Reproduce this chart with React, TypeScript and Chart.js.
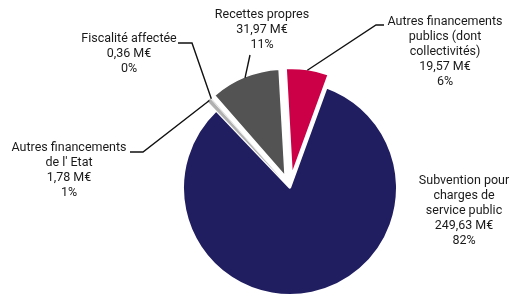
import React, { useEffect, useRef } from "react";
import { Chart, registerables } from "chart.js";

Chart.register(...registerables);

// ---- Data ----
const categories = [
  "Subvention pour charges de service public",
  "Autres financements de l' Etat",
  "Fiscalité affectée",
  "Recettes propres",
  "Autres financements publics (dont collectivités)",
];
const valuesME = [249.63, 1.78, 0.36, 31.97, 19.57];
const labelLines = [
  ["Subvention pour", "charges de", "service public"],
  ["Autres financements", "de l' Etat"],
  ["Fiscalité affectée"],
  ["Recettes propres"],
  ["Autres financements", "publics (dont", "collectivités)"],
];
const colors = ["#201e60", "#b1b1b1", "#d6d6d6", "#535353", "#cc0047"];

// ---- Layout / style (not data) ----
const W = 512;
const H = 297;
const PIE_R = 107;
const EXPLODE_PX = [0, 13, 13, 13, 13];
const FONT = '12.5px Roboto, "Noto Sans", sans-serif';
const LINE_H = 15;
const BORDERS = [2, 0, 0, 1.5, 2];
// text block anchor (center x, first-line y) relative to pie centre
const TEXT_POS: [number, number][] = [
  [174, -7],
  [-221, -40],
  [-161, -149],
  [-28, -173],
  [155, -166],
];
// leader line bend points relative to pie centre (after starting at slice edge)
const LEADERS: [number, number][][] = [
  [],
  [[-147, -36], [-160, -36]],
  [[-98, -145], [-112, -145]],
  [[-40, -133]],
  [[86, -163], [94, -163]],
];

const total = valuesME.reduce((a, b) => a + b, 0);
const fmtValue = (v: number) => v.toFixed(2).replace(".", ",") + " M€";
const fmtPct = (v: number) => Math.round((v / total) * 100) + "%";

const centre = (chart: any) => {
  const a = chart.chartArea;
  return [(a.left + a.right) / 2, (a.top + a.bottom) / 2];
};

const labelPlugin = {
  id: "sliceLabels",
  beforeDatasetsDraw(chart: any) {
    const [cx, cy] = centre(chart);
    const meta = chart.getDatasetMeta(0);
    meta.data.forEach((arc: any, i: number) => {
      const mid = (arc.startAngle + arc.endAngle) / 2;
      const d = EXPLODE_PX[i] || 0;
      arc.x = cx + Math.cos(mid) * d;
      arc.y = cy + Math.sin(mid) * d;
    });
  },
  afterDatasetsDraw(chart: any) {
    const ctx = chart.ctx as CanvasRenderingContext2D;
    const meta = chart.getDatasetMeta(0);
    const [cx, cy] = centre(chart);
    ctx.save();
    ctx.strokeStyle = "#111111";
    ctx.lineWidth = 1.4;
    meta.data.forEach((arc: any, i: number) => {
      const pts = LEADERS[i];
      if (!pts || pts.length === 0) return;
      const mid = (arc.startAngle + arc.endAngle) / 2;
      const sx = arc.x + Math.cos(mid) * (arc.outerRadius - 1);
      const sy = arc.y + Math.sin(mid) * (arc.outerRadius - 1);
      ctx.beginPath();
      ctx.moveTo(sx, sy);
      pts.forEach(([dx, dy]) => ctx.lineTo(cx + dx, cy + dy));
      ctx.stroke();
    });
    ctx.fillStyle = "#1a1a1a";
    ctx.font = FONT;
    ctx.textAlign = "center";
    ctx.textBaseline = "middle";
    valuesME.forEach((v, i) => {
      const lines = [...labelLines[i], fmtValue(v), fmtPct(v)];
      const [dx, dy] = TEXT_POS[i];
      lines.forEach((t, k) => ctx.fillText(t, cx + dx, cy + dy + k * LINE_H));
    });
    ctx.restore();
  },
};

export default function App() {
  const ref = useRef<HTMLCanvasElement | null>(null);
  useEffect(() => {
    if (!ref.current) return;
    const chart = new Chart(ref.current, {
      type: "pie",
      data: {
        labels: categories,
        datasets: [
          {
            data: valuesME,
            backgroundColor: colors,
            borderColor: "#ffffff",
            borderWidth: BORDERS,
          },
        ],
      },
      options: {
        responsive: false,
        animation: false,
        rotation: 20,
        radius: PIE_R,
        layout: { padding: { left: 68, top: 79, right: 0, bottom: 0 } },
        plugins: {
          legend: { display: false },
          tooltip: { enabled: false },
        },
      },
      plugins: [labelPlugin],
    });
    return () => chart.destroy();
  }, []);
  return (
    <div style={{ position: "absolute", left: 0, top: 0, width: W, height: H, background: "#fff" }}>
      <canvas ref={ref} width={W} height={H} style={{ display: "block", width: W, height: H }} />
    </div>
  );
}
